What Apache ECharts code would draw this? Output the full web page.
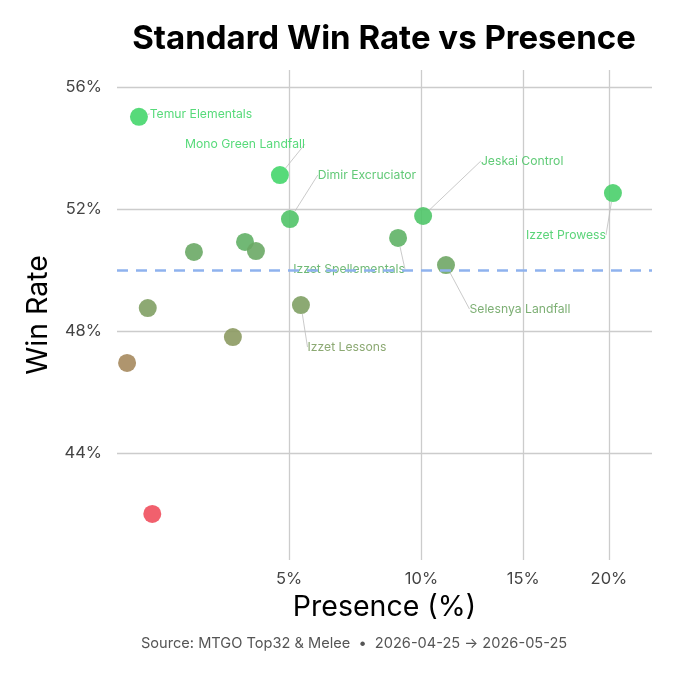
<!DOCTYPE html>
<html>
<head>
<meta charset="utf-8">
<script src="https://cdn.jsdelivr.net/npm/echarts@6/dist/echarts.min.js"></script>
<style>
html,body{margin:0;padding:0;background:#fff;}
#chart{width:680px;height:680px;}
</style>
</head>
<body>
<div id="chart"></div>
<script>
// ---- data ----
const decks = ['Temur Elementals','Mono Green Landfall','Dimir Excruciator','Jeskai Control','Izzet Prowess','Izzet Spellementals','Selesnya Landfall','Izzet Lessons','','','','','','',''];
const presence = [1.41, 4.72, 5.03, 10.07, 20.25, 8.99, 11.11, 5.38, 2.47, 3.72, 4.02, 1.56, 3.40, 1.22, 1.64];
const winRate  = [55.02, 53.11, 51.67, 51.77, 52.52, 51.05, 50.16, 48.85, 50.59, 50.92, 50.62, 48.75, 47.80, 46.95, 42.0];
const xTicks = [5, 10, 15, 20];
const yTicks = [44, 48, 52, 56];
const baseline = 50;

// label offsets (layout, px) for labeled decks
const labelOffsets = {
  'Temur Elementals': [62, -3],
  'Mono Green Landfall': [-35, -31],
  'Dimir Excruciator': [77, -44],
  'Jeskai Control': [99, -55],
  'Izzet Prowess': [-47, 42],
  'Izzet Spellementals': [-49, 31],
  'Selesnya Landfall': [74, 44],
  'Izzet Lessons': [46, 42]
};

// colour scale by win rate
const colorStops = [[42,[239,79,93]],[46.95,[166,137,94]],[47.8,[140,154,98]],[48.8,[128,160,100]],[50.6,[106,168,101]],[51.7,[80,196,104]],[53,[69,214,107]]];
function colorFor(v){
  if (v <= colorStops[0][0]) return rgb(colorStops[0][1]);
  for (let i=1;i<colorStops.length;i++){
    if (v <= colorStops[i][0]){
      const a=colorStops[i-1], b=colorStops[i];
      const t=(v-a[0])/(b[0]-a[0]);
      return rgb(a[1].map((c,k)=>c+(b[1][k]-c)*t));
    }
  }
  return rgb(colorStops[colorStops.length-1][1]);
}
function rgb(c){return 'rgb('+c.map(x=>Math.round(x)).join(',')+')';}

const sq = Math.sqrt;
const FONT = 'Inter';

const points = decks.map((d,i)=>{
  const col = colorFor(winRate[i]);
  return {
    name: d,
    value: [sq(presence[i]), winRate[i]],
    itemStyle: {color: col, opacity: 0.9},
    label: {show: d !== '', color: col}
  };
});

const chart = echarts.init(document.getElementById('chart'), null, {renderer:'canvas'});
chart.setOption({
  backgroundColor: '#fff',
  animation: false,
  title: {
    text: 'Standard Win Rate vs Presence',
    left: 379, top: 18, textAlign: 'center',
    textStyle: {fontFamily: FONT, fontWeight: 'bold', fontSize: 33, color: '#000'}
  },
  grid: {left: 117, right: 28, top: 70, bottom: 120, containLabel: false},
  xAxis: {
    type: 'value',
    min: 1.034, max: 4.773,
    name: 'Presence (%)', nameLocation: 'middle', nameGap: 32,
    nameTextStyle: {fontFamily: FONT, fontSize: 28.5, color: '#000', verticalAlign: 'top'},
    axisLine: {show: false},
    axisTick: {show: false, customValues: xTicks.map(sq)},
    axisLabel: {customValues: xTicks.map(sq), formatter: v => Math.round(v*v) + '%', fontFamily: FONT, fontSize: 16.5, color: '#444', margin: 11},
    splitLine: {show: true, lineStyle: {color: '#cccccc', width: 1.3}}
  },
  yAxis: {
    type: 'value',
    min: 40.49, max: 56.557,
    name: 'Win Rate', nameLocation: 'middle', nameGap: 64, nameRotate: 90,
    nameTextStyle: {fontFamily: FONT, fontSize: 28.5, color: '#000'},
    axisLine: {show: false},
    axisTick: {show: false, customValues: yTicks},
    axisLabel: {customValues: yTicks, formatter: v => Math.round(v) + '%', fontFamily: FONT, fontSize: 16.5, color: '#444', margin: 15},
    splitLine: {show: true, lineStyle: {color: '#cccccc', width: 1.3}}
  },
  graphic: [{
    type: 'text', left: 141, top: 636,
    style: {text: 'Source: MTGO Top32 & Melee  •  2026-04-25 → 2026-05-25', fontFamily: FONT, fontSize: 14.6, fill: '#555'}
  }],
  series: [{
    type: 'scatter',
    symbolSize: 18,
    data: points,
    label: {
      position: 'inside',
      formatter: p => p.name,
      fontFamily: FONT, fontSize: 12.2
    },
    labelLine: {show: true, lineStyle: {color: '#bdbdbd', width: 0.8}, length2: 0},
    labelLayout: function(params){
      const name = decks[params.dataIndex];
      const off = labelOffsets[name] || [0,0];
      return {dx: off[0], dy: off[1]};
    },
    markLine: {
      silent: true, symbol: 'none',
      label: {show: false},
      lineStyle: {color: '#8fb2ee', width: 2.6, type: [11, 8]},
      data: [{yAxis: baseline}]
    },
    z: 3
  }]
});
</script>
</body>
</html>
